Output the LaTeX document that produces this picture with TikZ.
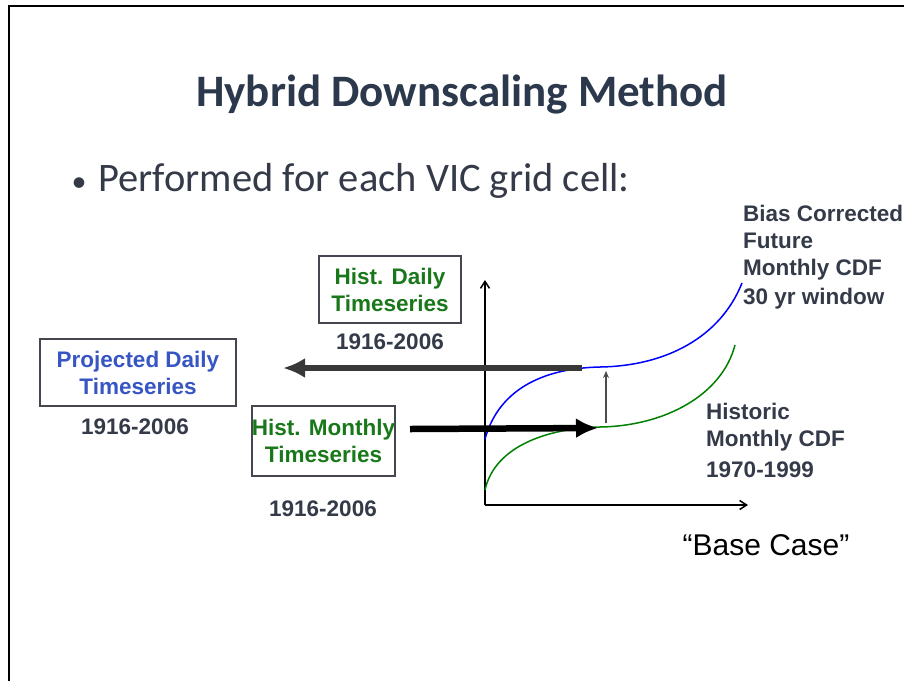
\documentclass[tikz,border=0pt]{standalone}
\usepackage{fontspec}
\setmainfont{Liberation Sans}
\newfontfamily\slidefont{Carlito}
\usepackage{xcolor}
\usetikzlibrary{arrows.meta, positioning, calc}

\definecolor{titlecol}{RGB}{44,56,76}
\definecolor{textcol}{RGB}{52,58,72}
\definecolor{histgreen}{RGB}{25,120,25}
\definecolor{projblue}{RGB}{55,85,195}
\definecolor{framecol}{RGB}{70,70,80}

\tikzset{
  tsbox/.style={rectangle, draw=framecol, line width=1.6pt, align=center, font=\bfseries\fontsize{22.5}{27}\selectfont, inner sep=0pt},
  yearlbl/.style={font=\bfseries\fontsize{22.5}{27}\selectfont, text=textcol},
  cdflbl/.style={font=\bfseries\fontsize{22.5}{27}\selectfont, text=textcol, align=left, anchor=north west, inner sep=0pt}
}

\begin{document}
\begin{tikzpicture}[x=1pt, y=-1pt]
\useasboundingbox[fill=white] (0,0) rectangle (904,681);
% slide frame
\draw[line width=1.2pt] (9,681) -- (9,6) -- (904,6);

% title and bullet
\node[font=\slidefont\bfseries\fontsize{45}{52}\selectfont, text=titlecol] (title) at (462,95) {Hybrid Downscaling Method};
\node[font=\slidefont\fontsize{40.5}{46}\selectfont, text=textcol, anchor=base west] (bullet) at (68,191) {{\fontsize{30}{34}\selectfont\textbullet}\hspace{12pt}Performed for each VIC grid cell:};

% axes
\coordinate (origin) at (485,505);
\coordinate (ytop) at (485,280);
\coordinate (xend) at (748,505);
\draw[-{Straight Barb[length=7pt,width=9pt]}, line width=1.5pt] (origin) -- (ytop);
\draw[-{Straight Barb[length=7pt,width=9pt]}, line width=1.5pt] (origin) -- (xend);

% CDF curves
\coordinate (bflat) at (582,368);
\coordinate (gflat) at (598,428);
\draw[blue, line width=1.5pt] (485,439) .. controls (500,385) and (550,368) .. (600,367) .. controls (665,366) and (720,338) .. (742,283);
\draw[green!50!black, line width=1.5pt] (485,490) .. controls (495,445) and (550,428) .. (600,427) .. controls (665,426) and (722,395) .. (735,345);

% boxes
\node[tsbox, text=histgreen, minimum width=142pt, minimum height=67pt] (hdaily) at (390,289.5) {Hist. Daily\\Timeseries};
\node[yearlbl] (hdyear) at (390,342) {1916-2006};
\node[tsbox, text=projblue, minimum width=196pt, minimum height=67pt] (pdaily) at (138,372.5) {Projected Daily\\Timeseries};
\node[yearlbl] (pdyear) at (135,427) {1916-2006};
\node[tsbox, text=histgreen, minimum width=143pt, minimum height=70pt] (hmonthly) at (323.5,441) {Hist. Monthly\\Timeseries};
\node[yearlbl] (hmyear) at (323,509) {1916-2006};

% CDF labels
\node[cdflbl] (biaslbl) at (743,205) {Bias Corrected\\Future\\Monthly CDF\\[2pt]30 yr window};
\node[cdflbl] (histlbl) at (706,403) {Historic\\Monthly CDF\\[4pt]1970-1999};
\node[font=\fontsize{30}{34}\selectfont] (basecase) at (766,545) {``Base Case''};

% mapping arrows
\coordinate (leftend) at (283,368);
\coordinate (mstart) at (410,429);
\draw[-{Latex[length=22pt,width=20pt]}, line width=5.5pt, color=black!78] (bflat) -- (leftend);
\draw[-{Latex[length=22pt,width=20pt]}, line width=6.5pt] (mstart) -- (gflat);
\draw[-{Stealth[length=7pt,width=6pt]}, line width=1.2pt, color=black!70] (606,423) -- (606,371);
\end{tikzpicture}
\end{document}
